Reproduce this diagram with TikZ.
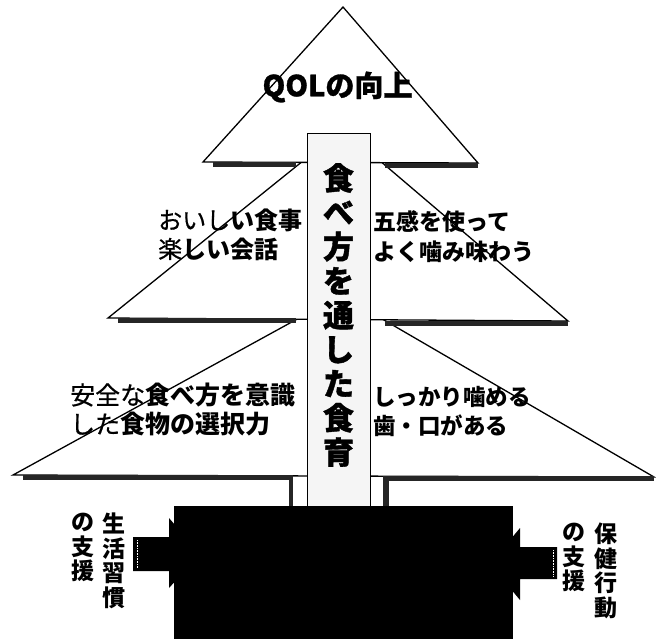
\documentclass[tikz,border=0pt]{standalone}
\usepackage{fontspec}
\newfontfamily\cjk{Noto Sans CJK JP}
\newfontfamily\cjkm[FakeBold=0.6]{Noto Sans CJK JP}
\begin{document}
\begin{tikzpicture}[x=1pt,y=-1pt,
  tier/.style={fill=white,draw=black,line width=1.3pt,line join=miter},
  band/.style={fill=black!85,draw=none},
  lblA/.style={font=\cjkm\fontsize{24}{24}\selectfont,anchor=west,inner sep=0pt},
  lblB/.style={font=\cjk\bfseries\fontsize{23}{23}\selectfont,anchor=west,inner sep=0pt},
  lblC/.style={font=\cjkm\fontsize{25}{25}\selectfont,anchor=west,inner sep=0pt},
  lblD/.style={font=\cjk\bfseries\fontsize{22.5}{22.5}\selectfont,anchor=west,inner sep=0pt},
  vcol/.style={font=\cjk\bfseries\fontsize{23}{24.5}\selectfont,align=center,anchor=north,inner sep=0pt},
  blockarrow/.style={fill=black,draw=none}]
\useasboundingbox (0,0) rectangle (656,641);
\fill[white] (0,0) rectangle (656,641);

% bottom tier
\draw[tier] (341,295) -- (13,475) -- (654,477) -- cycle;
\fill[band] (23,475) rectangle (293,480);
\fill[band] (383,476) rectangle (654,481);
\fill[band] (289,475) rectangle (293,506);
\fill[band] (383,476) rectangle (389,506);
% middle tier
\draw[tier] (342.6,129) -- (108,318) -- (568,321) -- cycle;
\fill[band] (118,318) rectangle (296,323);
\fill[band] (385,321) rectangle (568,326);
% top tier
\draw[tier] (343,7) -- (203,162) -- (478,163) -- cycle;
\fill[band] (213,162) rectangle (296,167);
\fill[band] (385,163) rectangle (478,168);

% central box
\draw[fill=black!4,line width=0.8pt] (307,133) rectangle (370,506);

% trunk
\fill[black] (174,506) rectangle (513,639);

% block arrows
\fill[blockarrow] (133,537) -- (169,537) -- (169,518) -- (200,554) -- (169,588) -- (169,571) -- (133,571) -- cycle;
\draw[white,densely dotted,line width=0.6pt] (137,540) -- (137,568);
\fill[blockarrow] (557,547) -- (520,547) -- (520,528) -- (490,564) -- (520,600) -- (520,579) -- (557,579) -- cycle;
\draw[white,densely dotted,line width=0.6pt] (553,550) -- (553,576);

% texts
\node[font=\cjk\bfseries\addfontfeatures{FakeBold=1}\fontsize{29}{29}\selectfont,inner sep=0pt] (qol) at (337.5,87) {QOLの向上};
\node[font=\cjk\bfseries\addfontfeatures{FakeBold=1.2}\fontsize{31}{34.25}\selectfont,align=center,inner sep=0pt] (title) at (338.5,315) {食\\べ\\方\\を\\通\\し\\た\\食\\育};

\node[lblA] (lm1) at (158,220) {おいし{\cjk\bfseries い食事}};
\node[lblA] (lm2) at (158,249) {楽{\cjk\bfseries しい会話}};
\node[lblB] (rm1) at (373,222) {五感を使って};
\node[lblB] (rm2) at (373,252) {よく噛み味わう};
\node[lblC] (lb1) at (70,395) {安全な{\cjk\bfseries 食べ方を意識}};
\node[lblC] (lb2) at (70,424) {した{\cjk\bfseries 食物の選択力}};
\node[lblD] (rb1) at (373,397) {しっかり噛める};
\node[lblD] (rb2) at (373,426) {歯・口がある};

\node[vcol] (lv1) at (113.5,513) {生\\活\\習\\慣};
\node[vcol] (lv2) at (82.5,513) {の\\支\\援};
\node[vcol] (rv1) at (606,523) {保\\健\\行\\動};
\node[vcol] (rv2) at (574,523) {の\\支\\援};
\end{tikzpicture}
\end{document}
